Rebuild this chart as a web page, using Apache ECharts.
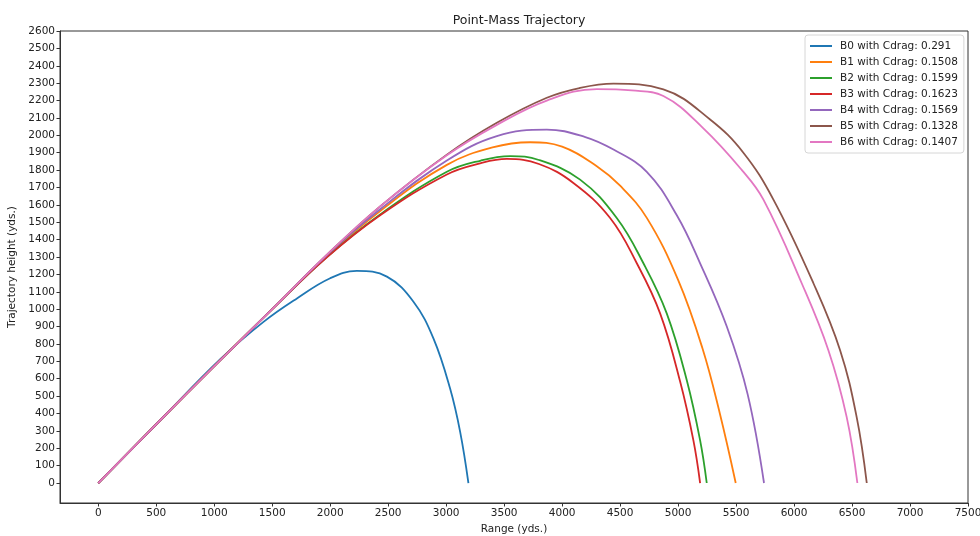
<!DOCTYPE html>
<html>
<head>
<meta charset="utf-8">
<script src="https://cdn.jsdelivr.net/npm/echarts@6/dist/echarts.min.js"></script>
<style>
  html, body { margin: 0; padding: 0; background: #fff; }
  #chart { width: 980px; height: 536px; }
</style>
</head>
<body>
<div id="chart"></div>
<script>
// ---- Data ----
const seriesNames = [
  'B0 with Cdrag: 0.291',
  'B1 with Cdrag: 0.1508',
  'B2 with Cdrag: 0.1599',
  'B3 with Cdrag: 0.1623',
  'B4 with Cdrag: 0.1569',
  'B5 with Cdrag: 0.1328',
  'B6 with Cdrag: 0.1407'
];
const seriesColors = ['#1f77b4', '#ff7f0e', '#2ca02c', '#d62728', '#9467bd', '#8c564b', '#e377c2'];

const b0 = [[0,0],[500,338],[1052,712],[1425,927],[1713,1062],[2000,1178],[2230,1220],[2489,1187],[2718,1043],[2891,831],[3034,543],[3121,293],[3192,0]];
const b1 = [[0,0],[500,338],[1000,672],[1500,1000],[1971,1305],[2431,1565],[3006,1830],[3400,1930],[3724,1960],[4000,1935],[4299,1822],[4500,1710],[4730,1525],[5000,1168],[5210,775],[5360,400],[5497,0]];
const b2 = [[0,0],[500,338],[1000,672],[1500,1000],[1971,1300],[2431,1545],[3006,1790],[3300,1855],[3552,1880],[3800,1858],[4155,1745],[4471,1524],[4701,1264],[4902,976],[5075,591],[5190,245],[5247,0]];
const b3 = [[0,0],[500,338],[1000,672],[1500,1000],[1971,1298],[2431,1540],[3006,1775],[3300,1840],[3523,1864],[3800,1835],[4097,1726],[4414,1524],[4644,1264],[4845,976],[5017,585],[5132,245],[5190,0]];
const b4 = [[0,0],[500,338],[1000,672],[1500,1000],[1971,1310],[2431,1575],[3006,1855],[3437,1995],[3868,2033],[4200,1990],[4443,1918],[4730,1790],[4989,1540],[5190,1264],[5420,900],[5600,510],[5741,0]];
const b5 = [[0,0],[500,338],[1000,672],[1500,1000],[1971,1312],[2431,1591],[3006,1889],[3437,2072],[3868,2216],[4150,2272],[4443,2297],[4873,2264],[5276,2091],[5563,1900],[5822,1630],[6167,1149],[6397,764],[6540,379],[6627,0]];
const b6 = [[0,0],[500,338],[1000,672],[1500,1000],[1971,1312],[2431,1591],[3006,1885],[3437,2060],[3868,2200],[4299,2266],[4600,2258],[4873,2226],[5218,2040],[5550,1800],[5736,1630],[6066,1149],[6296,764],[6454,379],[6546,0]];
const seriesData = [b0, b1, b2, b3, b4, b5, b6];

const xTicks = [0,500,1000,1500,2000,2500,3000,3500,4000,4500,5000,5500,6000,6500,7000,7500];
const yTicks = [0,100,200,300,400,500,600,700,800,900,1000,1100,1200,1300,1400,1500,1600,1700,1800,1900,2000,2100,2200,2300,2400,2500,2600];

const chart = echarts.init(document.getElementById('chart'), null, { renderer: 'canvas' });
const FONT = 'DejaVu Sans';
const TXT = '#222';

const option = {
  animation: false,
  backgroundColor: '#fff',
  textStyle: { fontFamily: FONT },
  title: {
    text: 'Point-Mass Trajectory',
    left: 514,
    textAlign: 'center',
    top: 9,
    textStyle: { fontFamily: FONT, fontSize: 12.5, fontWeight: 'normal', color: TXT }
  },
  legend: {
    orient: 'vertical',
    left: 805,
    top: 35,
    padding: [5, 6, 5, 5],
    itemGap: 4,
    itemWidth: 22,
    itemHeight: 2,
    icon: 'rect',
    backgroundColor: '#fff',
    borderColor: '#d6d6d6',
    borderWidth: 1,
    borderRadius: 3,
    textStyle: { fontFamily: FONT, fontSize: 10.5, color: TXT, lineHeight: 12, padding: [0, 0, 0, 3] },
    data: seriesNames
  },
  grid: {
    left: 60, right: 12, top: 31, bottom: 33,
    containLabel: false,
    outerBoundsMode: 'none',
    show: true, borderColor: '#333', borderWidth: 1, backgroundColor: '#fff'
  },
  xAxis: {
    type: 'value',
    min: -330,
    max: 7500,
    name: 'Range (yds.)',
    nameLocation: 'middle',
    nameGap: 20,
    nameTextStyle: { fontFamily: FONT, fontSize: 10.5, color: TXT },
    axisLine: { show: true, onZero: false, lineStyle: { color: '#333', width: 1 } },
    axisTick: { show: true, length: 3.5, lineStyle: { color: '#333' }, customValues: xTicks },
    axisLabel: { fontFamily: FONT, fontSize: 10.5, color: TXT, margin: 5, customValues: xTicks, formatter: v => String(v) },
    splitLine: { show: false }
  },
  yAxis: {
    type: 'value',
    min: -115,
    max: 2600,
    name: 'Trajectory height (yds.)',
    nameLocation: 'middle',
    nameGap: 40,
    nameTextStyle: { fontFamily: FONT, fontSize: 10.5, color: TXT },
    axisLine: { show: true, onZero: false, lineStyle: { color: '#333', width: 1 } },
    axisTick: { show: true, length: 3.5, lineStyle: { color: '#333' }, customValues: yTicks },
    axisLabel: { fontFamily: FONT, fontSize: 10.5, color: TXT, margin: 5, customValues: yTicks, formatter: v => String(v) },
    splitLine: { show: false }
  },
  series: seriesNames.map((name, i) => ({
    name: name,
    type: 'line',
    data: seriesData[i],
    showSymbol: false,
    symbol: 'none',
    smooth: 0.4,
    color: seriesColors[i],
    lineStyle: { width: 1.8, color: seriesColors[i] },
    z: 2 + i
  }))
};
chart.setOption(option);
</script>
</body>
</html>
